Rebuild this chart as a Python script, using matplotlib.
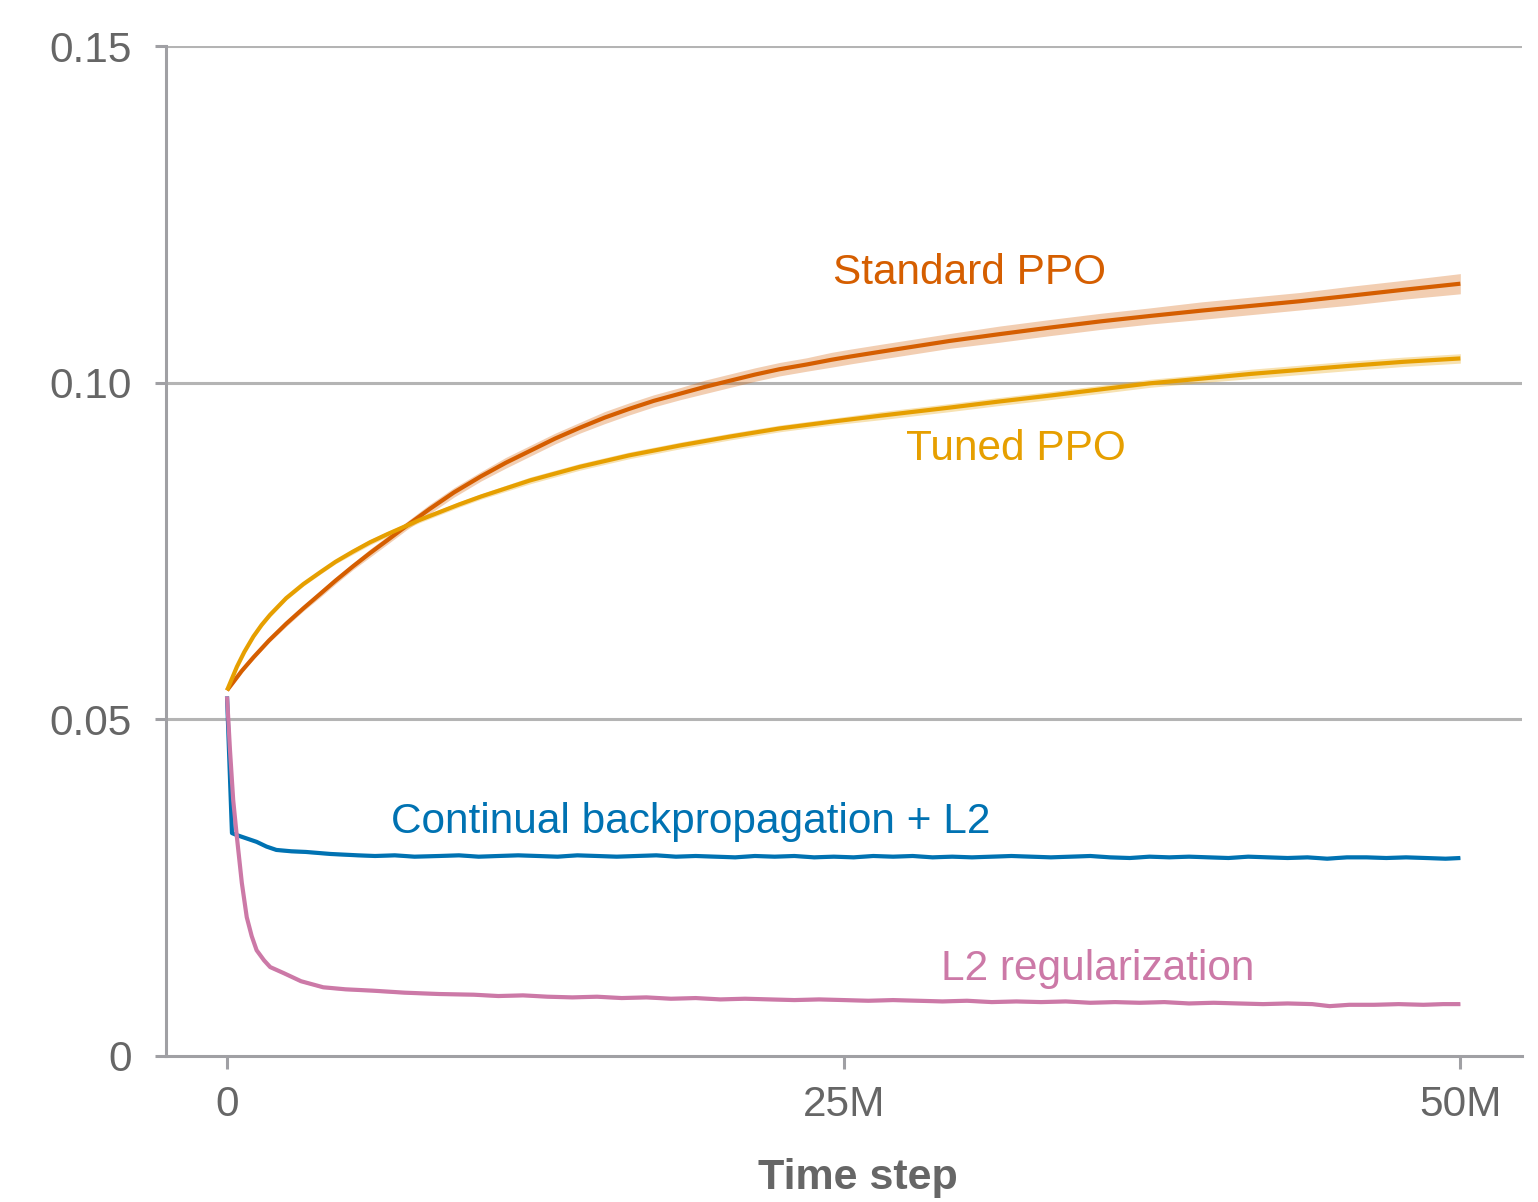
#!/usr/bin/env python3
# plot.py - weight magnitude over time for PPO variants

import numpy as np
import matplotlib
matplotlib.use("Agg")
import matplotlib.pyplot as plt

plt.rcParams['font.family'] = ['Liberation Sans', 'DejaVu Sans']

GRAY_TEXT = '#666666'
GRAY_AXIS = '#a0a0a4'

# Standard PPO (time step in millions)
std_x = [0, 0.25, 0.6, 1.07, 1.7, 2.4, 3.1, 3.8, 4.4, 5.1, 5.8, 6.5, 7.3, 8.2,
         9.2, 10.3, 11.3, 12.3, 13.3, 14.3, 15.3, 16.3, 17.3, 18.4, 19.4, 20.4,
         21.4, 22.4, 23.5, 24.5, 25.3, 26.5, 27.9, 29.3, 31.3, 33.4, 35.4, 37.4,
         39.5, 41.5, 43.5, 45.5, 47.7, 50]
std_y = [0.0543, 0.0555, 0.0572, 0.0592, 0.0617, 0.0642, 0.0665, 0.0687, 0.0706,
         0.0727, 0.0747, 0.0766, 0.0788, 0.0812, 0.0837, 0.0861, 0.0881, 0.0899,
         0.0917, 0.0933, 0.0948, 0.0961, 0.0973, 0.0984, 0.0994, 0.1003, 0.1012,
         0.1020, 0.1027, 0.1034, 0.1039, 0.1046, 0.1054, 0.1062, 0.1072, 0.1082,
         0.1091, 0.1099, 0.1107, 0.1114, 0.1121, 0.1129, 0.1138, 0.1147]
std_err = [0.0, 0.0002, 0.0002, 0.0003, 0.0003, 0.0004, 0.0004, 0.0005, 0.0005,
           0.0005, 0.0006, 0.0006, 0.0006, 0.0007, 0.0007, 0.0007, 0.0008, 0.0008,
           0.0008, 0.0008, 0.0009, 0.0009, 0.0009, 0.0009, 0.0010, 0.0010, 0.0010,
           0.0010, 0.0010, 0.0011, 0.0011, 0.0011, 0.0011, 0.0011, 0.0012, 0.0012,
           0.0012, 0.0012, 0.0013, 0.0013, 0.0013, 0.0014, 0.0014, 0.0015]

# Tuned PPO
tuned_x = [0, 0.4, 0.7, 1.07, 1.4, 1.74, 2.4, 3.1, 3.8, 4.4, 5.1, 5.8, 6.5, 7.8,
           9.4, 10.3, 12.3, 14.3, 16.3, 18.4, 20.4, 22.4, 24.5, 26.5, 29.3, 31.3,
           33.4, 35.4, 37.4, 39.5, 41.5, 43.5, 45.5, 47.7, 50]
tuned_y = [0.0543, 0.0578, 0.0600, 0.0623, 0.0640, 0.0655, 0.0680, 0.0701, 0.0719,
           0.0734, 0.0749, 0.0763, 0.0775, 0.0796, 0.0819, 0.0831, 0.0855, 0.0875,
           0.0892, 0.0907, 0.0920, 0.0932, 0.0942, 0.0951, 0.0963, 0.0972, 0.0981,
           0.0990, 0.0999, 0.1006, 0.1013, 0.1019, 0.1025, 0.1031, 0.1036]
tuned_err = [0.0, 0.0002, 0.0002, 0.0002, 0.0003, 0.0003, 0.0003, 0.0003, 0.0003,
             0.0003, 0.0004, 0.0004, 0.0004, 0.0004, 0.0004, 0.0004, 0.0005, 0.0005,
             0.0005, 0.0005, 0.0005, 0.0005, 0.0005, 0.0006, 0.0006, 0.0006, 0.0006,
             0.0006, 0.0006, 0.0006, 0.0007, 0.0007, 0.0007, 0.0007, 0.0007]

# Continual backpropagation + L2
cbp_x = [0, 0.2, 0.4, 0.8, 1.2, 1.6, 2.0, 2.6, 3.2, 4.2, 5.3, 6.0, 6.8, 7.6, 8.6,
         9.4, 10.2, 11.0, 11.8, 12.6, 13.4, 14.2, 15.0, 15.8, 16.6, 17.4, 18.2,
         19.0, 19.8, 20.6, 21.4, 22.2, 23.0, 23.8, 24.6, 25.4, 26.2, 27.0, 27.8,
         28.6, 29.4, 30.2, 31.0, 31.8, 32.6, 33.4, 34.2, 35.0, 35.8, 36.6, 37.4,
         38.2, 39.0, 39.8, 40.6, 41.4, 42.2, 43.0, 43.8, 44.6, 45.4, 46.2, 47.0,
         47.8, 48.6, 49.4, 50]
cbp_y = [0.0534, 0.0331, 0.0328, 0.0323, 0.0318, 0.0311, 0.0306, 0.0304, 0.0303,
         0.0300, 0.0298, 0.0297, 0.0298, 0.0296, 0.0297, 0.0298, 0.0296, 0.0297,
         0.0298, 0.0297, 0.0296, 0.0298, 0.0297, 0.0296, 0.0297, 0.0298, 0.0296,
         0.0297, 0.0296, 0.0295, 0.0297, 0.0296, 0.0297, 0.0295, 0.0296, 0.0295,
         0.0297, 0.0296, 0.0297, 0.0295, 0.0296, 0.0295, 0.0296, 0.0297, 0.0296,
         0.0295, 0.0296, 0.0297, 0.0295, 0.0294, 0.0296, 0.0295, 0.0296, 0.0295,
         0.0294, 0.0296, 0.0295, 0.0294, 0.0295, 0.0293, 0.0295, 0.0295, 0.0294,
         0.0295, 0.0294, 0.0293, 0.0294]

# L2 regularization
l2_x = [0, 0.12, 0.25, 0.4, 0.6, 0.8, 1.0, 1.2, 1.5, 1.75, 2.3, 3.0, 3.9, 4.8,
        5.9, 7.2, 8.6, 10, 11, 12, 13, 14, 15, 16, 17, 18, 19, 20, 21, 22, 23, 24,
        25, 26, 27, 28, 29, 30, 31, 32, 33, 34, 35, 36, 37, 38, 39, 40, 41, 42,
        43, 44, 44.7, 45.5, 46.5, 47.5, 48.5, 49.3, 50]
l2_y = [0.0534, 0.0454, 0.0380, 0.0325, 0.0257, 0.0206, 0.0178, 0.0157, 0.0142,
        0.0132, 0.0123, 0.0111, 0.0102, 0.0099, 0.0097, 0.0094, 0.0092, 0.0091,
        0.0089, 0.0090, 0.0088, 0.0087, 0.0088, 0.0086, 0.0087, 0.0085, 0.0086,
        0.0084, 0.0085, 0.0084, 0.0083, 0.0084, 0.0083, 0.0082, 0.0083, 0.0082,
        0.0081, 0.0082, 0.0080, 0.0081, 0.0080, 0.0081, 0.0079, 0.0080, 0.0079,
        0.0080, 0.0078, 0.0079, 0.0078, 0.0077, 0.0078, 0.0077, 0.0074, 0.0076,
        0.0076, 0.0077, 0.0076, 0.0077, 0.0077]

series = [
    (std_x, std_y, std_err, '#D55E00', 0.3),
    (tuned_x, tuned_y, tuned_err, '#E69F00', 0.3),
    (cbp_x, cbp_y, [0.0002] * len(cbp_x), '#0072B2', 0.25),
    (l2_x, l2_y, [0.0002] * len(l2_x), '#CC79A7', 0.25),
]

labels = [
    ('Standard PPO', 30.1, 0.1163, '#D55E00'),
    ('Tuned PPO', 32.0, 0.0902, '#E69F00'),
    ('Continual backpropagation + L2', 18.8, 0.0347, '#0072B2'),
    ('L2 regularization', 35.3, 0.0129, '#CC79A7'),
]

fig = plt.figure(figsize=(15.38, 12.02), dpi=100)
ax = fig.add_axes([0.108, 0.1215, 0.8816, 0.8402])

for gy in [0.05, 0.10, 0.15]:
    ax.axhline(gy, color='#b4b4b4', lw=2.2, zorder=1)

for xs, ys, err, col, a in series:
    xs = np.array(xs)
    ys = np.array(ys)
    err = np.array(err)
    ax.fill_between(xs, ys - err, ys + err, color=col, alpha=a, lw=0, zorder=2)
    ax.plot(xs, ys, color=col, lw=3, zorder=3, solid_capstyle='butt',
            solid_joinstyle='round')

for text, lx, ly, col in labels:
    ax.text(lx, ly, text, color=col, fontsize=30.5, ha='center', va='center')

ax.set_xlim(-2.47, 52.5)
ax.set_ylim(0, 0.15)
ax.set_xticks([0, 25, 50])
ax.set_xticklabels(['0', '25M', '50M'])
ax.set_yticks([0, 0.05, 0.10, 0.15])
ax.set_yticklabels(['0', '0.05', '0.10', '0.15'])

for side in ['top', 'right']:
    ax.spines[side].set_visible(False)
for side in ['left', 'bottom']:
    ax.spines[side].set_color(GRAY_AXIS)
    ax.spines[side].set_linewidth(2.2)

ax.tick_params(axis='y', length=8, width=2.2, color=GRAY_AXIS, pad=17,
               labelsize=30.5, labelcolor=GRAY_TEXT)
ax.tick_params(axis='x', length=9, width=2.2, color=GRAY_AXIS, pad=12,
               labelsize=30.5, labelcolor=GRAY_TEXT)

ax.set_xlabel('Time step', fontsize=31, fontweight='bold', color=GRAY_TEXT,
              labelpad=24)
ax.xaxis.label.set_x(0.51)

fig.savefig('out.png', dpi=100)
